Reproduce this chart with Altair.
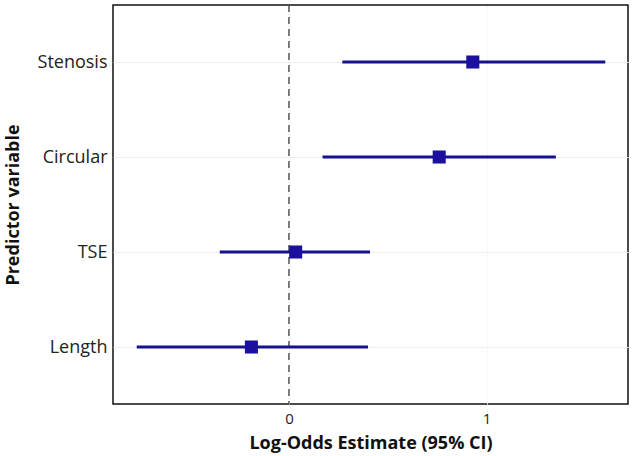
import altair as alt
import pandas as pd

# Logistic regression coefficients with 95% confidence intervals
predictors = ["Stenosis", "Circular", "TSE", "Length"]
estimate = [0.93, 0.76, 0.034, -0.19]
lower = [0.27, 0.17, -0.35, -0.77]
upper = [1.60, 1.35, 0.41, 0.40]

df = pd.DataFrame({
    "predictor": predictors,
    "estimate": estimate,
    "lower": lower,
    "upper": upper,
})

FONT = "Open Sans"
x_scale = alt.Scale(domain=[-0.89, 1.715], nice=False, zero=False)
y_scale = alt.Scale(type="point", domain=predictors, padding=0.6)

x_axis = alt.Axis(
    values=[0, 1], format="d", title="Log-Odds Estimate (95% CI)",
    grid=True, gridColor="#f0f0f0", gridWidth=1, gridDash=[2, 2],
    domain=False, ticks=False, labelPadding=7,
    labelFont=FONT, labelFontSize=15, labelColor="#222222",
    titleFont=FONT, titleFontSize=18, titleFontWeight="bold",
    titleColor="#111111", titlePadding=8,
)
y_axis = alt.Axis(
    title="Predictor variable",
    grid=True, gridColor="#eeeeee", gridWidth=1,
    domain=False, ticks=False, labelPadding=6,
    labelFont=FONT, labelFontSize=18, labelColor="#222222",
    titleFont=FONT, titleFontSize=18, titleFontWeight="bold",
    titleColor="#111111", titlePadding=15,
)

base = alt.Chart(df)

ref_line = alt.Chart(pd.DataFrame({"x": [0]})).mark_rule(
    color="#555555", strokeWidth=1.5, strokeDash=[7, 5]
).encode(x=alt.X("x:Q", scale=x_scale, axis=x_axis))

ci = base.mark_rule(color="#14128c", strokeWidth=3).encode(
    x=alt.X("lower:Q", scale=x_scale, axis=x_axis),
    x2="upper:Q",
    y=alt.Y("predictor:N", scale=y_scale, axis=y_axis),
)

points = base.mark_square(color="#1b0f9e", size=170, opacity=1, filled=True).encode(
    x=alt.X("estimate:Q", scale=x_scale, axis=x_axis),
    y=alt.Y("predictor:N", scale=y_scale, axis=y_axis),
)

chart = (
    alt.layer(ref_line, ci, points)
    .properties(
        width=515, height=399,
        autosize=alt.AutoSizeParams(type="none"),
        padding={"left": 113, "top": 5, "right": 5, "bottom": 52},
        background="white",
    )
    .configure_view(stroke="#111111", strokeWidth=1.5)
)

chart.save("out.html", embed_options={"renderer": "svg", "actions": False})
